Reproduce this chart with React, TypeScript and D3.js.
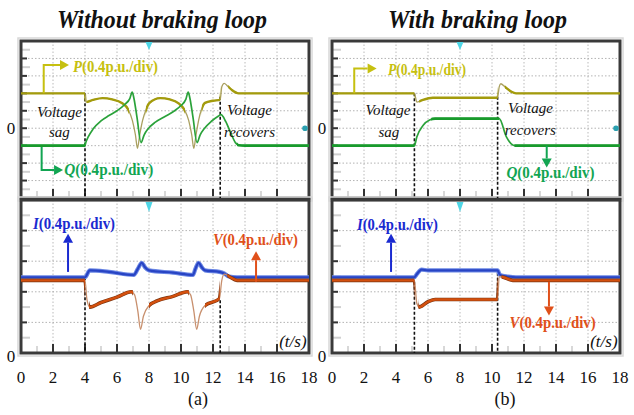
import React from 'react';
import * as d3 from 'd3';

type Pt = [number, number];

// ---------- data ----------
const xTicks = [0, 2, 4, 6, 8, 10, 12, 14, 16, 18];
const upperGrid = [-1.2, -0.8, -0.4, 0, 0.4, 0.8, 1.2, 1.6];
const lowerGrid = [0.4, 0.8, 1.2, 1.6];
const titles = ['Without braking loop', 'With braking loop'];
const tags = ['(a)', '(b)'];
const sagT = [4.0, 5.15];
const recT = [12.45, 10.35];

// (a) without braking loop  [t (s), value (p.u.)]
const pA: Pt[] = [[0, 0.8], [4.0, 0.8], [4.06, 0.6], [4.5, 0.65], [5.1, 0.69], [5.7, 0.66], [6.3, 0.58], [6.7, 0.43], [6.96, 0.18], [7.15, -0.15], [7.28, -0.46], [7.42, -0.15], [7.6, 0.18], [7.82, 0.43], [8.0, 0.57], [8.7, 0.69], [9.3, 0.66], [9.85, 0.57], [10.22, 0.42], [10.48, 0.18], [10.67, -0.15], [10.8, -0.46], [10.94, -0.15], [11.1, 0.18], [11.3, 0.45], [11.5, 0.58], [12.0, 0.63], [12.45, 0.65], [12.55, 0.95], [12.7, 1.03], [12.9, 0.97], [13.2, 0.87], [13.6, 0.8], [18, 0.8]];
const qA: Pt[] = [[0, -0.4], [4.0, -0.4], [4.05, -0.33], [4.2, -0.2], [4.5, -0.02], [5.0, 0.17], [5.5, 0.29], [6.0, 0.4], [6.5, 0.55], [6.8, 0.68], [6.95, 0.83], [7.05, 0.7], [7.25, 0.25], [7.5, -0.33], [7.7, -0.15], [7.95, -0.01], [8.4, 0.14], [9.0, 0.27], [9.6, 0.4], [10.0, 0.52], [10.3, 0.66], [10.45, 0.83], [10.55, 0.7], [10.75, 0.25], [11.0, -0.33], [11.2, -0.15], [11.45, -0.01], [11.9, 0.16], [12.3, 0.27], [12.5, 0.31], [12.8, 0.15], [13.1, -0.1], [13.4, -0.33], [13.6, -0.39], [14, -0.4], [18, -0.4]];
const iA: Pt[] = [[0, 0.99], [4.0, 0.99], [4.3, 1.08], [5.5, 1.06], [7.05, 1.02], [7.3, 1.1], [7.55, 1.18], [7.75, 1.12], [8.0, 1.08], [9.5, 1.05], [10.75, 1.02], [10.9, 1.1], [11.1, 1.18], [11.3, 1.12], [11.5, 1.08], [12.4, 1.06], [12.7, 1.04], [13.0, 1.0], [13.5, 0.99], [18, 0.99]];
const vA: Pt[] = [[0, 0.95], [4.0, 0.95], [4.12, 0.7], [4.3, 0.6], [5.0, 0.66], [6.0, 0.73], [6.9, 0.8], [7.1, 0.76], [7.3, 0.55], [7.47, 0.31], [7.65, 0.48], [8.0, 0.62], [8.5, 0.68], [9.5, 0.74], [10.4, 0.8], [10.6, 0.76], [10.8, 0.55], [10.98, 0.31], [11.15, 0.48], [11.5, 0.62], [12.4, 0.71], [12.55, 0.95], [12.7, 1.03], [13.0, 1.0], [13.5, 0.95], [18, 0.95]];

// (b) with braking loop
const pB: Pt[] = [[0, 0.8], [5.15, 0.8], [5.3, 0.6], [5.6, 0.64], [6.3, 0.7], [10.35, 0.7], [10.45, 0.95], [10.55, 1.02], [10.8, 0.95], [11.2, 0.84], [11.5, 0.8], [18, 0.8]];
const qB: Pt[] = [[0, -0.4], [5.15, -0.4], [5.3, -0.2], [5.7, 0.07], [6.1, 0.19], [6.45, 0.22], [10.45, 0.22], [10.9, -0.2], [11.2, -0.36], [11.45, -0.4], [18, -0.4]];
const iB: Pt[] = [[0, 0.99], [5.15, 0.99], [5.3, 1.03], [5.6, 1.09], [6.0, 1.08], [10.35, 1.08], [10.5, 1.02], [11.0, 1.0], [11.5, 0.99], [18, 0.99]];
const vB: Pt[] = [[0, 0.95], [5.15, 0.95], [5.3, 0.65], [5.45, 0.6], [6.0, 0.67], [6.45, 0.7], [10.35, 0.7], [10.45, 1.0], [10.7, 0.99], [11.3, 0.95], [18, 0.95]];

const upperData = [[pA, qA], [pB, qB]];
const lowerData = [[iA, vA], [iB, vB]];

// time windows where the trace is drawn heavy (slow parts)
const pHeavy = [[[0, 4.0], [4.1, 6.75], [7.8, 10.25], [11.3, 12.45], [12.95, 18]], [[0, 5.15], [5.45, 10.35], [10.8, 18]]];
const qHeavy = [[[0, 4.0], [13.5, 18]], [[0, 5.15], [6.2, 10.45], [11.4, 18]]];
const vHeavy = [[[0, 4.0], [4.25, 7.0], [8.0, 10.5], [11.5, 12.42], [12.9, 18]], [[0, 5.15], [5.4, 10.35], [10.6, 18]]];

// ---------- layout ----------
const W = 634, H = 415;
const PX = [[21, 309], [332, 620]];
const UP_Y: [number, number] = [198, 41];
const LO_Y: [number, number] = [353, 200];
const UP_DOM: [number, number] = [-1.6, 2.0];
const LO_DOM: [number, number] = [0, 2.0];
const SERIF = '"Liberation Serif", "Times New Roman", serif';

const COL = {
  pHeavy: '#a39b0c', pThin: '#aaa060', pLab: '#c6c010',
  qHeavy: '#189a2c', qThin: '#2aa23a', qLab: '#12a552',
  iHeavy: '#2844c4', iHalo: '#6a86e4', iLab: '#1a2ad0',
  vHeavy: '#d4500e', vEdge: '#7a3410', vThin: '#c8906e', vLab: '#e0501a',
};

const lineGen = (x: any, y: any) =>
  d3.line<Pt>().x(d => x(d[0])).y(d => y(d[1])).curve(d3.curveMonotoneX);

function Arrow({ pts, color, head = 9, half = 5 }: { pts: [number, number][]; color: string; head?: number; half?: number }) {
  const n = pts.length;
  const [x1, y1] = pts[n - 2];
  const [x2, y2] = pts[n - 1];
  const a = Math.atan2(y2 - y1, x2 - x1);
  const bx = x2 - head * Math.cos(a), by = y2 - head * Math.sin(a);
  const linePts = [...pts.slice(0, n - 1), [bx, by]];
  const px = -Math.sin(a) * half, py = Math.cos(a) * half;
  return (
    <g>
      <polyline points={linePts.map(p => p.join(',')).join(' ')} fill="none" stroke={color} strokeWidth={2} />
      <polygon points={`${x2},${y2} ${bx + px},${by + py} ${bx - px},${by - py}`} fill={color} />
    </g>
  );
}

function Trace({ id, data, x, y, heavy, thinColor, heavyColor, thinW, heavyW, edgeColor, yTop, yBot }: any) {
  const d = lineGen(x, y)(data) as string;
  return (
    <g>
      <path d={d} fill="none" stroke={thinColor} strokeWidth={thinW} strokeLinejoin="round" />
      {heavy && (
        <>
          <defs>
            <clipPath id={id}>
              {heavy.map((r: number[], i: number) => (
                <rect key={i} x={x(r[0])} y={yTop} width={x(r[1]) - x(r[0])} height={yBot - yTop} />
              ))}
            </clipPath>
          </defs>
          <g clipPath={`url(#${id})`}>
            {edgeColor && <path d={d} fill="none" stroke={edgeColor} strokeWidth={heavyW + 1.2} strokeLinejoin="round" />}
            <path d={d} fill="none" stroke={heavyColor} strokeWidth={heavyW} strokeLinejoin="round" />
          </g>
        </>
      )}
    </g>
  );
}

function Frame({ x, yr, grid, ys, minor }: any) {
  const x0 = x(0), x1 = x(18);
  const yTop = yr[1], yBot = yr[0];
  return (
    <g>
      <rect x={x0 - 3} y={yTop - 3} width={x1 - x0 + 6} height={yBot - yTop + 6} fill="none" stroke="#d8d8d8" strokeWidth={1.5} />
      {/* grid */}
      {xTicks.slice(1, -1).map(t => (
        <line key={'vx' + t} x1={x(t)} x2={x(t)} y1={yTop} y2={yBot} stroke="#a8a8a8" strokeWidth={0.8} strokeDasharray="1.5,2" />
      ))}
      {grid.map((g: number) => (
        <line key={'hy' + g} x1={x0} x2={x1} y1={ys(g)} y2={ys(g)} stroke="#a0a0a0" strokeWidth={0.8} strokeDasharray="1.5,2" />
      ))}
      {/* minor light ticks */}
      {minor.map((g: number) => (
        <line key={'mn' + g} x1={x0} x2={x0 + 9} y1={ys(g)} y2={ys(g)} stroke="#d0d0d0" strokeWidth={2} />
      ))}
      {xTicks.slice(1, -1).map(t => (
        <line key={'mx' + t} x1={x(t - 1)} x2={x(t - 1)} y1={yBot} y2={yBot - 7} stroke="#d8d8d8" strokeWidth={2} />
      ))}
      {/* major ticks */}
      {grid.map((g: number) => (
        <line key={'ly' + g} x1={x0} x2={x0 + 6} y1={ys(g)} y2={ys(g)} stroke="#333" strokeWidth={2} />
      ))}
      {xTicks.slice(1, -1).map(t => (
        <line key={'bx' + t} x1={x(t)} x2={x(t)} y1={yBot} y2={yBot - 9} stroke="#333" strokeWidth={2} />
      ))}
      <rect x={x0} y={yTop} width={x1 - x0} height={yBot - yTop} fill="none" stroke="#3a3a3a" strokeWidth={3} />
    </g>
  );
}

function Label({ x, y, letter, rest, color, len, size = 16 }: any) {
  return (
    <text x={x} y={y} fill={color} fontFamily={SERIF} fontWeight="bold" fontSize={size} textLength={len} lengthAdjust="spacingAndGlyphs">
      <tspan fontStyle="italic">{letter}</tspan>{rest}
    </text>
  );
}

function Panel({ k }: { k: number }) {
  const x = d3.scaleLinear().domain([0, 18]).range(PX[k]);
  const yu = d3.scaleLinear().domain(UP_DOM).range(UP_Y);
  const yl = d3.scaleLinear().domain(LO_DOM).range(LO_Y);
  const [pD, qD] = upperData[k];
  const [iD, vD] = lowerData[k];
  const upMinor = upperGrid.map(g => g - 0.2).concat([1.8]);
  const loMinor = lowerGrid.map(g => g - 0.2).concat([1.8]);
  const sag = sagT[k], rec = recT[k];
  const tagX = k === 0 ? 198 : 505;
  const titleX = k === 0 ? 162 : 477.5;
  const titleLen = k === 0 ? 210 : 179;

  const ital = { fontFamily: SERIF, fontStyle: 'italic' as const, fontSize: 15, fill: '#111' };

  return (
    <g>
      <text x={titleX} y={28} textAnchor="middle" fontFamily={SERIF} fontWeight="bold" fontStyle="italic" fontSize={26} textLength={titleLen} lengthAdjust="spacingAndGlyphs" fill="#111">{titles[k]}</text>

      <Frame x={x} yr={UP_Y} grid={upperGrid} ys={yu} minor={upMinor} />
      <Frame x={x} yr={LO_Y} grid={lowerGrid} ys={yl} minor={loMinor} />

      {/* event markers */}
      <line x1={x(sag)} x2={x(sag)} y1={yu(0.8)} y2={yu(-1.6)} stroke="#111" strokeWidth={1.6} strokeDasharray="3,2" />
      <line x1={x(rec)} x2={x(rec)} y1={yu(0.72)} y2={yu(-1.6)} stroke="#111" strokeWidth={1.6} strokeDasharray="3,2" />
      <line x1={x(sag)} x2={x(sag)} y1={yl(k === 0 ? 0.99 : 0.93)} y2={yl(0)} stroke="#111" strokeWidth={1.6} strokeDasharray="3,2" />
      <line x1={x(rec)} x2={x(rec)} y1={yl(k === 0 ? 0.69 : 1.05)} y2={yl(0)} stroke="#111" strokeWidth={1.6} strokeDasharray="3,2" />

      {/* upper traces */}
      <Trace id={`p${k}`} data={pD} x={x} y={yu} heavy={pHeavy[k]} thinColor={COL.pThin} heavyColor={COL.pHeavy} thinW={1.3} heavyW={2.4} yTop={UP_Y[1]} yBot={UP_Y[0]} />
      <Trace id={`q${k}`} data={qD} x={x} y={yu} heavy={qHeavy[k]} thinColor={COL.qThin} heavyColor={COL.qHeavy} thinW={1.7} heavyW={2.6} yTop={UP_Y[1]} yBot={UP_Y[0]} />

      {/* lower traces */}
      <Trace id={`i${k}`} data={iD} x={x} y={yl} heavy={[[0, 18]]} thinColor={COL.iHalo} heavyColor={COL.iHeavy} thinW={4.2} heavyW={2.2} yTop={LO_Y[1]} yBot={LO_Y[0]} />
      <Trace id={`v${k}`} data={vD} x={x} y={yl} heavy={vHeavy[k]} thinColor={COL.vThin} heavyColor={COL.vHeavy} edgeColor={COL.vEdge} thinW={1.3} heavyW={2.4} yTop={LO_Y[1]} yBot={LO_Y[0]} />

      {/* cyan scope markers */}
      <polygon points={`${x(8) - 3.5},${UP_Y[1] + 1} ${x(8) + 3.5},${UP_Y[1] + 1} ${x(8)},${UP_Y[1] + 9}`} fill="#4fd6e6" />
      <polygon points={`${x(8) - 3.5},${LO_Y[1] + 2} ${x(8) + 3.5},${LO_Y[1] + 2} ${x(8)},${LO_Y[1] + 12}`} fill="#4fd6e6" />
      <circle cx={x(17.75)} cy={yu(0)} r={2.8} fill="#2aa0b0" />

      {/* annotations upper */}
      {k === 0 ? (
        <>
          <Arrow pts={[[x(1.42), yu(0.8)], [x(1.42), yu(1.45)], [x(3.0), yu(1.45)]]} color={COL.pLab} />
          <Label x={x(3.25)} y={yu(1.29)} letter="P" rest="(0.4p.u./div)" color={COL.pLab} len={85} />
          <Arrow pts={[[x(1.29), yu(-0.43)], [x(1.29), yu(-0.96)], [x(2.63), yu(-0.96)]]} color={COL.qLab} />
          <Label x={x(2.7)} y={yu(-1.08)} letter="Q" rest="(0.4p.u./div)" color={COL.qLab} len={89} />
          <text x={x(2.4)} y={yu(0.25)} textAnchor="middle" {...ital}>Voltage</text>
          <text x={x(2.4)} y={yu(-0.2)} textAnchor="middle" {...ital}>sag</text>
          <text x={x(14.28)} y={yu(0.3)} textAnchor="middle" {...ital}>Voltage</text>
          <text x={x(14.28)} y={yu(-0.2)} textAnchor="middle" {...ital}>recovers</text>
        </>
      ) : (
        <>
          <Arrow pts={[[x(1.39), yu(0.8)], [x(1.39), yu(1.37)], [x(2.79), yu(1.37)]]} color={COL.pLab} />
          <Label x={x(3.5)} y={yu(1.23)} letter="P" rest="(0.4p.u./div)" color={COL.pLab} len={78} />
          <Arrow pts={[[x(13.42), yu(-0.4)], [x(13.42), yu(-0.9)]]} color={COL.qLab} />
          <Label x={x(10.9)} y={yu(-1.13)} letter="Q" rest="(0.4p.u./div)" color={COL.qLab} len={88} />
          <text x={x(3.5)} y={yu(0.3)} textAnchor="middle" {...ital}>Voltage</text>
          <text x={x(3.55)} y={yu(-0.2)} textAnchor="middle" {...ital}>sag</text>
          <text x={x(12.4)} y={yu(0.34)} textAnchor="middle" {...ital}>Voltage</text>
          <text x={x(12.4)} y={yu(-0.16)} textAnchor="middle" {...ital}>recovers</text>
        </>
      )}

      {/* annotations lower */}
      {k === 0 ? (
        <>
          <Arrow pts={[[x(2.94), yl(1.06)], [x(2.94), yl(1.56)]]} color={COL.iLab} />
          <Label x={x(0.75)} y={yl(1.62)} letter="I" rest="(0.4p.u./div)" color={COL.iLab} len={82} />
          <Arrow pts={[[x(14.69), yl(0.93)], [x(14.69), yl(1.33)]]} color={COL.vLab} />
          <Label x={x(12.0)} y={yl(1.41)} letter="V" rest="(0.4p.u./div)" color={COL.vLab} len={85} />
        </>
      ) : (
        <>
          <Arrow pts={[[x(3.69), yl(1.06)], [x(3.69), yl(1.56)]]} color={COL.iLab} />
          <Label x={x(1.56)} y={yl(1.61)} letter="I" rest="(0.4p.u./div)" color={COL.iLab} len={81} />
          <Arrow pts={[[x(13.56), yl(0.93)], [x(13.56), yl(0.49)]]} color={COL.vLab} />
          <Label x={x(11.1)} y={yl(0.33)} letter="V" rest="(0.4p.u./div)" color={COL.vLab} len={86} />
        </>
      )}

      <text x={x(17.85)} y={yl(0.08)} textAnchor="end" fontFamily={SERIF} fontStyle="italic" fontSize={17} fill="#111">(t/s)</text>

      {/* axis labels */}
      <text x={x(0) - 10} y={yu(0) + 6} textAnchor="middle" fontFamily={SERIF} fontSize={17} fill="#111">0</text>
      <text x={x(0) - 10} y={yl(0) + 9} textAnchor="middle" fontFamily={SERIF} fontSize={17} fill="#111">0</text>
      {xTicks.map(t => (
        <text key={'xl' + t} x={x(t)} y={383} textAnchor="middle" fontFamily={SERIF} fontSize={17} fill="#111">{t}</text>
      ))}
      <text x={tagX} y={405} textAnchor="middle" fontFamily={SERIF} fontSize={18} fill="#111">{tags[k]}</text>
    </g>
  );
}

export default function App() {
  return (
    <svg width={W} height={H} viewBox={`0 0 ${W} ${H}`} style={{ position: 'absolute', left: 0, top: 0, background: '#fff' }}>
      <rect width={W} height={H} fill="#fff" />
      <Panel k={0} />
      <Panel k={1} />
    </svg>
  );
}
